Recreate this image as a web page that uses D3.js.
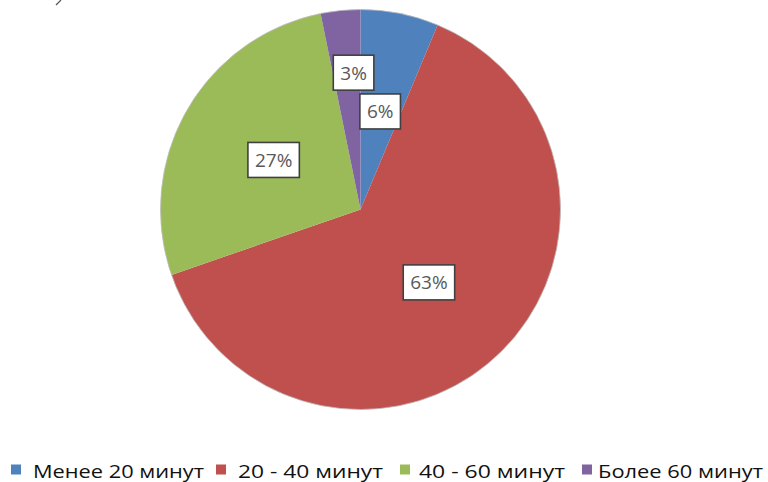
<!DOCTYPE html>
<html>
<head>
<meta charset="utf-8">
<script src="https://cdn.jsdelivr.net/npm/d3@7"></script>
<style>
  html, body { margin: 0; padding: 0; background: #fff; }
  svg { display: block; }
</style>
</head>
<body>
<svg id="chart" width="768" height="482"></svg>
<script>
// ---- data ----
const categories = ["Менее 20 минут", "20 - 40 минут", "40 - 60 минут", "Более 60 минут"];
const values = [6.3, 63.4, 27.1, 3.2];
const colors = ["#4F81BD", "#C0504D", "#9BBB59", "#8064A2"];

// ---- layout ----
const W = 768, H = 482;
const cx = 360.5, cy = 209.5, R = 200;
const svg = d3.select("#chart");

const pie = d3.pie().sort(null).value(d => d)
  .startAngle(0).endAngle(2 * Math.PI);
const arcs = pie(values);
const arc = d3.arc().innerRadius(0).outerRadius(R);

const g = svg.append("g").attr("transform", `translate(${cx},${cy})`);
g.selectAll("path.slice").data(arcs).enter().append("path")
  .attr("class", "slice")
  .attr("d", arc)
  .attr("fill", (d, i) => colors[i]);
g.append("circle").attr("r", R).attr("fill", "none")
  .attr("stroke", "#bdbdbd").attr("stroke-width", 0.8);

// label positions: centroid at half radius; smallest slice pushed outward like Excel
const total = d3.sum(values);
function labelPos(d, i) {
  let ang = (d.startAngle + d.endAngle) / 2;
  let r = R * 0.5;
  if (i === 3) { r = R * 0.685; ang = ang + 0.05; }
  return [r * Math.sin(ang), -r * Math.cos(ang)];
}
const fmt = v => Math.round(v / total * 100) + "%";
const labels = g.selectAll("g.lbl").data(arcs).enter().append("g")
  .attr("class", "lbl")
  .attr("transform", (d, i) => { const p = labelPos(d, i); return `translate(${p[0]},${p[1]})`; });
labels.each(function(d) {
  const sel = d3.select(this);
  const rect = sel.append("rect");
  const t = sel.append("text")
    .attr("text-anchor", "middle")
    .attr("dy", "0.36em")
    .attr("font-family", "'Open Sans', sans-serif")
    .attr("font-size", 19)
    .attr("fill", "#595959")
    .text(fmt(d.value));
  const w = t.node().getComputedTextLength();
  const bw = w + 14, bh = 35;
  rect.attr("x", -bw / 2).attr("y", -bh / 2).attr("width", bw).attr("height", bh)
    .attr("fill", "#fff").attr("stroke", "#404040").attr("stroke-width", 1.6);
});

// ---- legend ----
const legSquareX = [11, 216, 400, 582];
const legTextX = [33, 238, 419, 598];
const legTextW = [171, 145, 146, 165];
const legBaseline = 478;
const leg = svg.append("g");
categories.forEach((c, i) => {
  leg.append("rect").attr("x", legSquareX[i]).attr("y", 464.5)
    .attr("width", 10).attr("height", 10).attr("fill", colors[i]);
  leg.append("text")
    .attr("x", legTextX[i]).attr("y", legBaseline)
    .attr("font-family", "'Open Sans', sans-serif")
    .attr("font-size", 18)
    .attr("fill", "#111")
    .attr("textLength", legTextW[i])
    .attr("lengthAdjust", "spacingAndGlyphs")
    .text(c);
});

// stray mark in the top-left corner of the original scan
svg.append("path").attr("d", "M56,5 L61,0").attr("stroke", "#555").attr("stroke-width", 1.2);
</script>
</body>
</html>
